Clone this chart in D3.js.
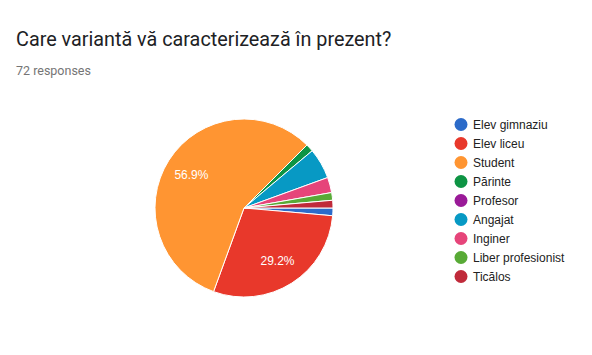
<!DOCTYPE html>
<html><head><meta charset="utf-8">
<script src="https://cdn.jsdelivr.net/npm/d3@7"></script>
<style>body{margin:0;background:#fff;}svg{display:block;font-family:Roboto,Arial,sans-serif;}</style>
</head><body>
<svg id="c" width="592" height="355"></svg>
<script>
const categories = ["Elev gimnaziu","Elev liceu","Student","Părinte","Profesor","Angajat","Inginer","Liber profesionist","Ticălos"];
const counts = [1, 21, 41, 1, 0, 4, 2, 1, 1];
const colors = ["#2c6bc9","#e8382b","#ff9532","#0e9444","#9a1a98","#0799c4","#e6457a","#58aa36","#c02a3a"];
const title = "Care variantă vă caracterizează în prezent?";
const subtitle = "72 responses";

const svg = d3.select("#c");
svg.append("rect").attr("width",592).attr("height",355).attr("fill","#fff");
svg.append("text").attr("x",16).attr("y",46).attr("font-size",19.8).attr("fill","#202124").text(title);
svg.append("text").attr("x",16).attr("y",75).attr("font-size",12.5).attr("fill","#757575").text(subtitle);

const total = d3.sum(counts);
const cx = 244, cy = 208, r = 89;
const data = categories.map((c,i)=>({c, v:counts[i], col:colors[i]}));
const pie = d3.pie().value(d=>d.v).sort(null).startAngle(Math.PI/2).endAngle(Math.PI/2 + 2*Math.PI);
const arc = d3.arc().innerRadius(0).outerRadius(r);
const labelArc = d3.arc().innerRadius(r*0.7).outerRadius(r*0.7);
const g = svg.append("g").attr("transform",`translate(${cx},${cy})`);
const arcs = pie(data);
g.selectAll("path").data(arcs.filter(a=>a.data.v>0)).join("path")
  .attr("d",arc).attr("fill",d=>d.data.col).attr("stroke","#fff").attr("stroke-width",1);
g.selectAll("text").data(arcs.filter(a=>a.data.v/total>0.1)).join("text")
  .attr("transform",d=>`translate(${labelArc.centroid(d)})`)
  .attr("text-anchor","middle").attr("dy","0.35em").attr("font-size",12).attr("font-family","Arial, 'Liberation Sans', sans-serif").attr("fill","#fff")
  .text(d=>(d.data.v/total*100).toFixed(1)+"%");

const y = d3.scaleBand().domain(categories).range([115, 286]);
const leg = svg.append("g");
const items = leg.selectAll("g").data(data).join("g")
  .attr("transform",d=>`translate(0,${y(d.c)+y.bandwidth()/2})`);
items.append("circle").attr("cx",461).attr("cy",0).attr("r",6.5).attr("fill",d=>d.col);
items.append("text").attr("x",473).attr("dy","0.35em").attr("font-size",12).attr("font-family","Arial, 'Liberation Sans', sans-serif").attr("fill","#222").text(d=>d.c);
</script>
</body></html>
